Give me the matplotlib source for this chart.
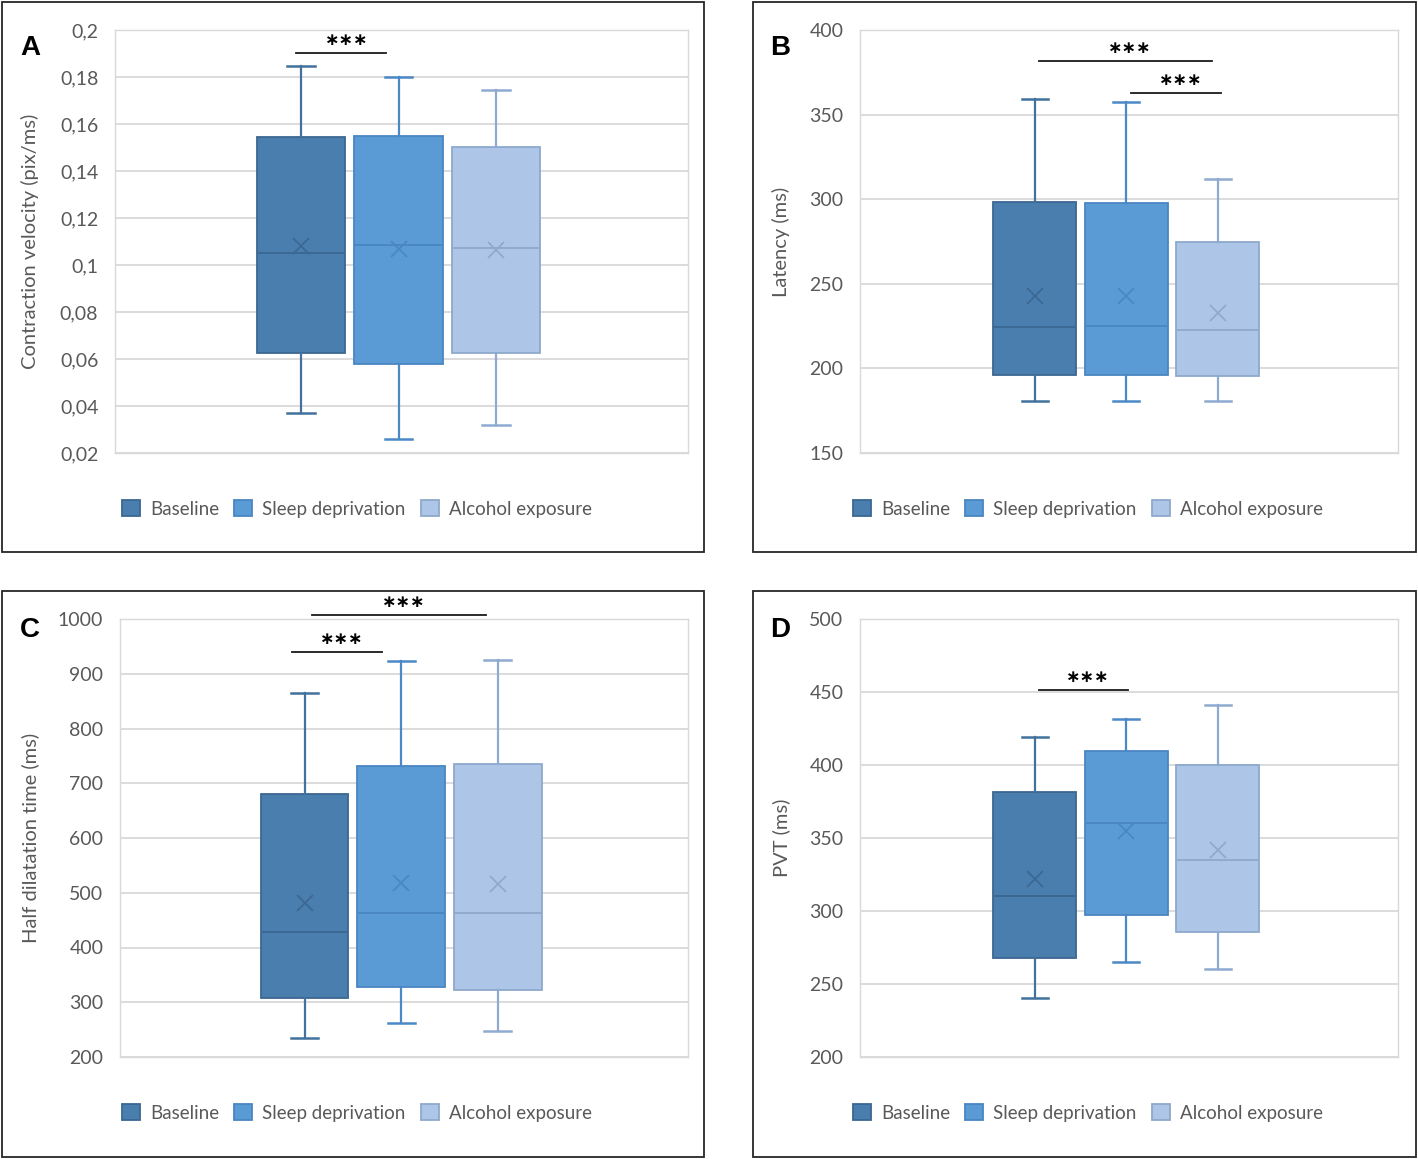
import matplotlib
matplotlib.use("Agg")
import matplotlib.pyplot as plt
from matplotlib.patches import Rectangle, Patch

# ---------------- data ----------------
groups = ["Baseline", "Sleep deprivation", "Alcohol exposure"]

# panel A: contraction velocity
a_whislo = [0.037, 0.026, 0.032]
a_q1 = [0.0626, 0.0579, 0.0626]
a_med = [0.1051, 0.1085, 0.1072]
a_q3 = [0.1545, 0.155, 0.1502]
a_whishi = [0.1847, 0.180, 0.1745]
a_mean = [0.108, 0.1068, 0.1064]
a_ticks = [0.02, 0.04, 0.06, 0.08, 0.10, 0.12, 0.14, 0.16, 0.18, 0.20]
a_ticklabels = ["0,02", "0,04", "0,06", "0,08", "0,1", "0,12", "0,14", "0,16", "0,18", "0,2"]
# significance bars: (x start, x end, y level) in data units
a_sig = [(-0.05, 0.876, 0.1902)]

# panel B: latency
b_whislo = [180.7, 180.7, 180.7]
b_q1 = [196.0, 196.0, 195.5]
b_med = [224.5, 225.0, 222.7]
b_q3 = [298.3, 297.8, 274.7]
b_whishi = [359.2, 357.4, 312.0]
b_mean = [242.8, 242.8, 232.8]
b_ticks = [150, 200, 250, 300, 350, 400]
b_ticklabels = ["150", "200", "250", "300", "350", "400"]
b_sig = [(0.043, 1.935, 381.7), (1.054, 2.033, 362.8)]

# panel C: half dilatation time
c_whislo = [234.9, 262.3, 247.8]
c_q1 = [308.0, 328.0, 322.5]
c_med = [428.4, 463.0, 463.0]
c_q3 = [680.4, 731.6, 735.0]
c_whishi = [864.9, 923.3, 925.0]
c_mean = [481.4, 517.9, 516.0]
c_ticks = [200, 300, 400, 500, 600, 700, 800, 900, 1000]
c_ticklabels = ["200", "300", "400", "500", "600", "700", "800", "900", "1000"]
c_sig = [(0.073, 1.875, 1007.3), (-0.125, 0.80, 939.7)]

# panel D: PVT
d_whislo = [240.4, 265.0, 260.3]
d_q1 = [267.8, 297.2, 285.6]
d_med = [310.3, 360.3, 335.0]
d_q3 = [381.5, 409.6, 400.0]
d_whishi = [419.2, 431.5, 441.0]
d_mean = [321.9, 354.8, 341.8]
d_ticks = [200, 250, 300, 350, 400, 450, 500]
d_ticklabels = ["200", "250", "300", "350", "400", "450", "500"]
d_sig = [(0.043, 1.022, 451.4)]

ylabels = ["Contraction velocity (pix/ms)", "Latency (ms)",
           "Half dilatation time (ms)", "PVT (ms)"]
letters = ["A", "B", "C", "D"]

# ---------------- styling ----------------
fills = ["#4a7eae", "#5a9ad5", "#adc5e6"]
edges = ["#3b6792", "#4a86c0", "#8ea9cc"]
whisk = ["#41719c", "#4a88c6", "#8eaad0"]
txtcol = "#595959"
grid_col = "#d9d9d9"
FONT = "Lato"

plt.rcParams["font.family"] = [FONT, "DejaVu Sans"]

W, H = 1418, 1159
fig = plt.figure(figsize=(W / 100, H / 100), dpi=100)


def fx(px):
    return px / W


def fy(py):
    return 1 - py / H


# axes rectangles in pixels: left, top, right, bottom
axes_px = [(115, 30, 688, 453), (860, 30, 1398, 453),
           (120, 619, 688, 1057), (860, 619, 1398, 1057)]
frames_px = [(2, 2, 704, 552), (753, 2, 1416, 552),
             (2, 591, 704, 1157), (753, 591, 1416, 1157)]
letter_px = [(20, 55), (770, 55), (20, 637), (770, 637)]
ylab_px = [30, 781, 30, 781]
legend_y_px = [509, 509, 1113, 1113]
legend_x_px = [357, 1088, 357, 1088]

panels = [
    (a_whislo, a_q1, a_med, a_q3, a_whishi, a_mean, a_ticks, a_ticklabels, a_sig),
    (b_whislo, b_q1, b_med, b_q3, b_whishi, b_mean, b_ticks, b_ticklabels, b_sig),
    (c_whislo, c_q1, c_med, c_q3, c_whishi, c_mean, c_ticks, c_ticklabels, c_sig),
    (d_whislo, d_q1, d_med, d_q3, d_whishi, d_mean, d_ticks, d_ticklabels, d_sig),
]

positions = [0, 1, 2]

for k, (wl, q1, med, q3, wh, mn, ticks, tlabels, sigs) in enumerate(panels):
    l, t, r, b = axes_px[k]
    ax = fig.add_axes([fx(l), fy(b), (r - l) / W, (b - t) / H])
    ax.set_xlim(-1.91, 3.97)
    ax.set_ylim(ticks[0], ticks[-1])
    ax.set_yticks(ticks)
    ax.set_yticklabels(tlabels)
    ax.set_xticks([])
    ax.grid(axis="y", color=grid_col, lw=1.3, zorder=0)
    ax.set_axisbelow(True)
    for s in ax.spines.values():
        s.set_color(grid_col)
        s.set_linewidth(1.0)
    ax.tick_params(axis="y", length=0, pad=12, labelsize=14, labelcolor=txtcol)

    for i in range(3):
        st = [dict(whislo=wl[i], q1=q1[i], med=med[i], q3=q3[i], whishi=wh[i],
                   mean=mn[i], fliers=[], label=groups[i])]
        ax.bxp(st, positions=[positions[i]], widths=0.91, capwidths=0.28,
               patch_artist=True, showmeans=True, showfliers=False,
               boxprops=dict(facecolor=fills[i], edgecolor=edges[i], lw=1.3),
               medianprops=dict(color=edges[i], lw=1.3),
               whiskerprops=dict(color=whisk[i], lw=1.6),
               capprops=dict(color=whisk[i], lw=1.8),
               meanprops=dict(marker="x", markeredgecolor=edges[i],
                              markersize=12, markeredgewidth=1.2),
               manage_ticks=False)

    for (x0, x1, yv) in sigs:
        ax.plot([x0, x1], [yv, yv], color="#1a1a1a", lw=1.3,
                clip_on=False, zorder=5)
        ax.annotate("\u2217\u2217\u2217", xy=((x0 + x1) / 2 + 0.05, yv),
                    xytext=(0, 5.5), textcoords="offset points",
                    ha="center", va="baseline", fontsize=12.5, color="black",
                    fontweight="bold", family="DejaVu Sans",
                    annotation_clip=False)

    ax.set_ylabel(ylabels[k], fontsize=14.5, color=txtcol, va="center")
    ax.yaxis.set_label_coords((ylab_px[k] - l) / (r - l), 0.5)

    handles = [Patch(facecolor=fills[i], edgecolor=edges[i], lw=1.3) for i in range(3)]
    leg = ax.legend(handles, groups, loc="center", ncol=3, frameon=False,
                    bbox_to_anchor=((legend_x_px[k] - l) / (r - l),
                                    (b - legend_y_px[k]) / (b - t)),
                    fontsize=13.5, handlelength=0.95, handleheight=0.95,
                    handletextpad=0.55, columnspacing=0.8)
    for tx in leg.get_texts():
        tx.set_color(txtcol)

    fl, ft, fr, fb = frames_px[k]
    fig.patches.append(Rectangle((fx(fl), fy(fb)), (fr - fl) / W, (fb - ft) / H,
                                 transform=fig.transFigure, fill=False,
                                 edgecolor="#262626", lw=1.3))
    lx, ly = letter_px[k]
    fig.text(fx(lx), fy(ly), letters[k], fontsize=20, fontweight="bold",
             family=["Liberation Sans", "DejaVu Sans"], va="baseline", ha="left")

fig.savefig("out.png", dpi=100)
